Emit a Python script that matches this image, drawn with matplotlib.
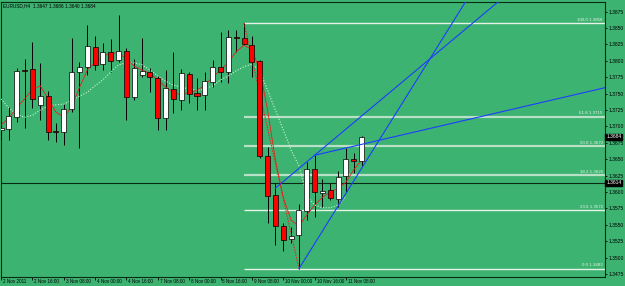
import matplotlib
matplotlib.use("Agg")
import matplotlib.pyplot as plt
import numpy as np

# EURUSD H4 candles, 2 Nov 00:00 .. 11 Nov 16:00
opens = [1.3695, 1.3696, 1.3714, 1.3786, 1.3788, 1.3733, 1.3746, 1.3693, 1.3692, 1.3727,
         1.3783, 1.3791, 1.3821, 1.3795, 1.3814, 1.3801, 1.3815, 1.3745, 1.3778, 1.3783,
         1.3774, 1.3713, 1.3757, 1.3740, 1.3780, 1.3751, 1.3748, 1.3768, 1.3791, 1.3783,
         1.3836, 1.3835, 1.3824, 1.3800, 1.3655, 1.3595, 1.3548, 1.3528, 1.3534, 1.3571,
         1.3635, 1.3598, 1.3603, 1.3589, 1.3624, 1.3650, 1.3647]
highs = [1.3707, 1.3730, 1.3789, 1.3803, 1.3829, 1.3797, 1.3754, 1.3705, 1.3734, 1.3835,
         1.3798, 1.3855, 1.3838, 1.3827, 1.3833, 1.3870, 1.3820, 1.3803, 1.3835, 1.3789,
         1.3777, 1.3786, 1.3814, 1.3788, 1.3783, 1.3774, 1.3783, 1.3801, 1.3844, 1.3847,
         1.3847, 1.3858, 1.3838, 1.3801, 1.3669, 1.3614, 1.3553, 1.3547, 1.3582, 1.3646,
         1.3656, 1.3620, 1.3614, 1.3632, 1.3667, 1.3659, 1.3686]
lows = [1.3679, 1.3679, 1.3707, 1.3698, 1.3728, 1.3710, 1.3679, 1.3676, 1.3672, 1.3722,
        1.3667, 1.3778, 1.3786, 1.3786, 1.3783, 1.3798, 1.3710, 1.3740, 1.3775, 1.3752,
        1.3695, 1.3695, 1.3720, 1.3725, 1.3736, 1.3725, 1.3725, 1.3760, 1.3768, 1.3766,
        1.3814, 1.3824, 1.3775, 1.3652, 1.3553, 1.3519, 1.3510, 1.3522, 1.3483, 1.3557,
        1.3562, 1.3577, 1.3588, 1.3577, 1.3600, 1.3629, 1.3640]
closes = [1.3698, 1.3716, 1.3785, 1.3785, 1.3742, 1.3746, 1.3692, 1.3692, 1.3727, 1.3783,
          1.3791, 1.3823, 1.3794, 1.3814, 1.3800, 1.3815, 1.3745, 1.3789, 1.3785, 1.3775,
          1.3713, 1.3759, 1.3742, 1.3781, 1.3749, 1.3746, 1.3769, 1.3791, 1.3783, 1.3836,
          1.3835, 1.3826, 1.3798, 1.3655, 1.3594, 1.3548, 1.3527, 1.3533, 1.3573, 1.3635,
          1.3600, 1.3602, 1.3591, 1.3623, 1.3650, 1.3647, 1.3684]

# indicator lines
fast_ma = [1.3702, 1.3713, 1.3728, 1.3742, 1.3756, 1.3762, 1.3743, 1.3722, 1.3714, 1.3730,
           1.3759, 1.3786, 1.3798, 1.3807, 1.3812, 1.3812, 1.3803, 1.3792, 1.3786, 1.3781,
           1.3771, 1.3760, 1.3752, 1.3748, 1.3752, 1.3755, 1.3763, 1.3775, 1.3786, 1.3798,
           1.3814, 1.3824, 1.3817, 1.3786, 1.3725, 1.3649, 1.3592, 1.3557, 1.3548, 1.3565,
           1.3580, 1.3592, 1.3600, 1.3606, 1.3615, 1.3634, 1.3649]
slow_ma = [1.3742, 1.3728, 1.3719, 1.3714, 1.3717, 1.3725, 1.3731, 1.3733, 1.3734, 1.3740,
           1.3746, 1.3752, 1.3762, 1.3771, 1.3783, 1.3794, 1.3797, 1.3797, 1.3794, 1.3786,
           1.3777, 1.3769, 1.3763, 1.3760, 1.3757, 1.3755, 1.3757, 1.3762, 1.3771, 1.3777,
           1.3785, 1.3791, 1.3795, 1.3786, 1.3755, 1.3725, 1.3695, 1.3664, 1.3640, 1.3595,
           1.3580, 1.3576, 1.3576, 1.3580, 1.3593]

zigzag_x = [31, 38]
zigzag_y = [1.3858, 1.3483]

# trend lines: two anchors each (bar index, price), drawn as rays
trend_lines = [((38, 1.3483), (59.4, 1.3893)),
               ((35, 1.3606), (40, 1.3656)),
               ((40, 1.3656), (77, 1.3759))]

fib_start = 31
fib_levels = ["0.0", "23.6", "38.2", "50.0", "61.8", "100.0"]
fib_prices = [1.3483, 1.3572, 1.3626, 1.3670, 1.3715, 1.3858]

hline_price = 1.3614
last_price = 1.3684

tick_idx = [0, 4, 8, 12, 16, 20, 24, 28, 32, 36, 40, 44]
tick_labels = ["2 Nov 2011", "2 Nov 16:00", "3 Nov 08:00", "4 Nov 00:00", "4 Nov 16:00",
               "7 Nov 08:00", "8 Nov 00:00", "8 Nov 16:00", "9 Nov 08:00", "10 Nov 00:00",
               "10 Nov 16:00", "11 Nov 08:00"]
price_ticks = [1.3475, 1.3500, 1.3525, 1.3550, 1.3575, 1.3600, 1.3625, 1.3650, 1.3675,
               1.3700, 1.3725, 1.3750, 1.3775, 1.3800, 1.3825, 1.3850, 1.3875]

title = "EURUSD,H4  1.3647 1.3686 1.3640 1.3684"

bg = "#3cb371"
fg = "#000000"
plt.rcParams["font.family"] = ["Liberation Sans Narrow", "Liberation Sans", "DejaVu Sans"]

fig = plt.figure(figsize=(6.25, 2.86), dpi=100, facecolor=bg)
ax = fig.add_axes([1 / 625, 1 - 277 / 286, 604 / 625, 275 / 286])
ax.set_facecolor(bg)

x_min, x_max = 0.0, 77.04
y_min, y_max = 1.34704, 1.38898
ax.set_xlim(x_min, x_max)
ax.set_ylim(y_min, y_max)

# fib retracement lines
for lev, pr in zip(fib_levels, fib_prices):
    faint = lev in ("38.2", "50.0", "61.8")
    ax.hlines(pr, fib_start, x_max, colors="#e6f3e6" if not faint else "#b8e0c4",
              linewidth=1.0 if not faint else 1.6, zorder=1)
    ax.text(x_max - 0.3, pr + 0.0002, f"{lev} {pr:.4f}", fontsize=3.2, color="#e8f5e8",
            ha="right", va="bottom", zorder=6)

# horizontal line
ax.axhline(hline_price, color="#0a2a14", linewidth=0.8, zorder=2)

# moving averages
idx = np.arange(len(opens))
ax.plot(idx[:len(slow_ma)], slow_ma, color="#d6f2d6", linewidth=0.8,
        linestyle=(0, (1, 1.5)), zorder=4)
ax.plot(idx, fast_ma, color="#e8201a", linewidth=0.6, zorder=4)
ax.plot(zigzag_x, zigzag_y, color="#e8201a", linewidth=0.8, linestyle=(0, (1.2, 1.2)), zorder=4)

# candles
o = np.array(opens)
c = np.array(closes)
bull = c >= o
ax.vlines(idx, lows, highs, colors=fg, linewidth=0.7, zorder=3)
body_bottom = np.minimum(o, c)
body_h = np.maximum(np.abs(c - o), 0.00008)
ax.bar(idx, body_h, bottom=body_bottom, width=0.64,
       color=np.where(bull, "#ffffff", "#ff0000"), edgecolor=fg, linewidth=0.5, zorder=5)

# trend lines extended as rays
for (x0, y0), (x1, y1) in trend_lines:
    k = (y1 - y0) / (x1 - x0)
    ax.plot([x0, x_max], [y0, y0 + k * (x_max - x0)], color="#1f3cff", linewidth=0.8, zorder=6)

# axes styling
for side in ("left", "top", "right", "bottom"):
    ax.spines[side].set_color("#0a2a14")
    ax.spines[side].set_linewidth(0.8)

ax.yaxis.tick_right()
ax.set_yticks(price_ticks)
ax.set_yticklabels([f"{p:.4f}" for p in price_ticks])
ax.tick_params(axis="y", length=1.5, width=0.6, pad=1, labelsize=3.6, colors=fg)
ax.set_xticks(tick_idx)
ax.set_xticklabels([])
ax.tick_params(axis="x", length=2.5, width=0.6, colors=fg, direction="out")
for t, lab in zip(tick_idx, tick_labels):
    ax.text(t + 0.25, -0.008, lab, transform=ax.get_xaxis_transform(), fontsize=3.3,
            ha="left", va="top", color=fg)

# price boxes on the axis
for pr, txt in ((last_price, "1.3684"), (hline_price, "1.3614")):
    ax.text(1.002, pr, txt, transform=ax.get_yaxis_transform(), fontsize=3.6, color="white",
            ha="left", va="center", zorder=10,
            bbox=dict(boxstyle="square,pad=0.15", facecolor="black", edgecolor="black"))

ax.text(0.004, 0.995, title, transform=ax.transAxes, fontsize=3.4, color=fg,
        ha="left", va="top", zorder=10)

fig.savefig("out.png", dpi=100, facecolor=bg)
